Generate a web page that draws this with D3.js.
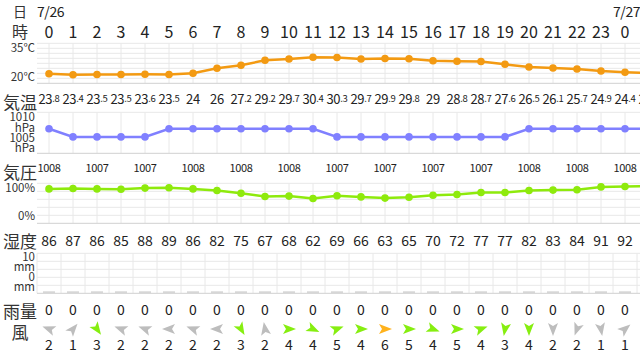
<!DOCTYPE html>
<html>
<head>
<meta charset="utf-8">
<script src="https://cdn.jsdelivr.net/npm/d3@7"></script>
<style>
  body { margin: 0; background: #fff; }
  svg { display: block; font-family: "Noto Sans CJK JP", "Noto Sans", sans-serif; }
</style>
</head>
<body>
<div id="chart"></div>
<script>
// hourly forecast 7/26 0時 - 7/27 1時
var dates = [{i: 0, label: "7/26"}, {i: 24, label: "7/27"}];
var hours = [0,1,2,3,4,5,6,7,8,9,10,11,12,13,14,15,16,17,18,19,20,21,22,23,0,1];
var temps = [23.8,23.4,23.5,23.5,23.6,23.5,24,26,27.2,29.2,29.7,30.4,30.3,29.7,29.9,29.8,29,28.8,28.7,27.6,26.5,26.1,25.7,24.9,24.4,24.1];
var pressure = [1008,1007,1007,1007,1007,1008,1008,1008,1008,1008,1008,1008,1007,1007,1007,1007,1007,1007,1007,1007,1008,1008,1008,1008,1008,1008];
var humidity = [86,87,86,85,88,89,86,82,75,67,68,62,69,66,63,65,70,72,77,77,82,83,84,91,92,93];
var rain = [0,0,0,0,0,0,0,0,0,0,0,0,0,0,0,0,0,0,0,0,0,0,0,0,0,0];
var windSpeed = [2,1,3,2,2,2,2,2,3,2,4,4,5,4,6,5,4,5,4,3,4,2,2,1,1];
// arrow heading on screen, degrees (0 = right, 90 = down)
var windDir = [200,-50,55,200,200,180,200,180,60,-100,0,25,-20,0,0,0,20,0,-20,100,90,90,110,80,-40];

var tempTicks = [20,22,24,26,28,30,32,34,36];
var humTicks = [0,20,40,60,80,100];
var rainTicks = [0,2,4,6,8,10];

var width = 640, height = 354;
var svg = d3.select("#chart").append("svg")
  .attr("width", width)
  .attr("height", height);

var x = d3.scaleBand()
  .domain(d3.range(26))
  .range([37, 37 + 24 * 26]);
function cx(i) { return x(i) + x.bandwidth() / 2; }

var yTemp = d3.scaleLinear().domain([20, 36]).range([83.3, 43.3]);
var yPres = d3.scaleLinear().domain([1005, 1010]).range([153.3, 112.3]);
var yHum = d3.scaleLinear().domain([0, 100]).range([223.3, 183.3]);
var yRain = d3.scaleLinear().domain([0, 10]).range([293.3, 253.3]);

var gridColor = "#e8e8e8", baseColor = "#d0d0d0", labelColor = "#333", valueColor = "#222";

function grid(y, ticks, atCenter) {
  var g = svg.append("g");
  var r = y.range();
  g.selectAll(".v")
    .data(d3.range(26))
    .enter().append("line")
    .attr("x1", function(d) { return atCenter ? cx(d) : x(d); })
    .attr("x2", function(d) { return atCenter ? cx(d) : x(d); })
    .attr("y1", r[1])
    .attr("y2", r[0])
    .attr("stroke", gridColor)
    .attr("stroke-width", 1);
  g.selectAll(".h")
    .data(ticks)
    .enter().append("line")
    .attr("x1", 37).attr("x2", width)
    .attr("y1", function(d) { return y(d); })
    .attr("y2", function(d) { return y(d); })
    .attr("stroke", function(d, i) { return i == 0 ? baseColor : gridColor; })
    .attr("stroke-width", 1);
}

grid(yTemp, tempTicks, true);
grid(yPres, [1005, 1010], true);
grid(yHum, humTicks, true);
grid(yRain, rainTicks, false);

function txt(xp, yp, s, size, anchor, color) {
  return svg.append("text")
    .attr("x", xp).attr("y", yp)
    .attr("font-size", size)
    .attr("text-anchor", anchor || "middle")
    .attr("dominant-baseline", "central")
    .attr("fill", color || labelColor)
    .text(s);
}

// header rows
txt(20, 11, "日", 14);
svg.selectAll(".date")
  .data(dates)
  .enter().append("text")
  .attr("x", function(d) { return x(d.i); })
  .attr("y", 11)
  .attr("font-size", 14)
  .attr("letter-spacing", -0.4)
  .attr("dominant-baseline", "central")
  .attr("fill", valueColor)
  .text(function(d) { return d.label; });

txt(20, 31, "時", 16);
svg.selectAll(".hour")
  .data(hours)
  .enter().append("text")
  .attr("x", function(d, i) { return cx(i); })
  .attr("y", 31)
  .attr("font-size", 16)
  .attr("text-anchor", "middle")
  .attr("dominant-baseline", "central")
  .attr("fill", valueColor)
  .text(function(d) { return d; });

// axis labels
txt(35, yTemp(35) + 1, "35℃", 11.5, "end");
txt(35, yTemp(20) - 7, "20℃", 11.5, "end");
txt(35, yPres(1010) + 4, "1010", 11.5, "end");
txt(35, yPres(1010) + 14.5, "hPa", 11.5, "end");
txt(35, yPres(1005) - 16, "1005", 11.5, "end");
txt(35, yPres(1005) - 6, "hPa", 11.5, "end");
txt(35, yHum(100) + 3.5, "100%", 11.5, "end");
txt(35, yHum(0) - 8, "0%", 11.5, "end");
txt(35, yRain(10) + 3, "10", 11.5, "end");
txt(35, yRain(10) + 13, "mm", 11.5, "end");
txt(35, yRain(0) - 17, "0", 11.5, "end");
txt(35, yRain(0) - 7.5, "mm", 11.5, "end");

// series lines + dots
function series(data, y, color) {
  var line = d3.line()
    .x(function(d, i) { return cx(i); })
    .y(function(d) { return y(d); });
  svg.append("path")
    .datum(data)
    .attr("d", line)
    .attr("fill", "none")
    .attr("stroke", color)
    .attr("stroke-width", 2.5);
  svg.append("g").selectAll("circle")
    .data(data)
    .enter().append("circle")
    .attr("cx", function(d, i) { return cx(i); })
    .attr("cy", function(d) { return y(d); })
    .attr("r", 3.8)
    .attr("fill", color);
}

series(temps, yTemp, "#f39a12");
series(pressure, yPres, "#8080ff");
series(humidity, yHum, "#8eea0c");

// temperature values
txt(20, 101, "気温", 17);
var tv = svg.append("g").selectAll("text")
  .data(temps)
  .enter().append("text")
  .attr("x", function(d, i) { return cx(i); })
  .attr("y", 98)
  .attr("text-anchor", "middle")
  .attr("dominant-baseline", "central")
  .attr("fill", valueColor)
  .attr("letter-spacing", -0.3);
tv.append("tspan")
  .attr("font-size", 13)
  .text(function(d) { return Math.floor(d); });
tv.append("tspan")
  .attr("font-size", 9.5)
  .text(function(d) { var s = String(d).split("."); return s.length > 1 ? "." + s[1] : ""; });

// pressure values (every 2 hours)
txt(20, 171.5, "気圧", 17);
svg.append("g").selectAll("text")
  .data(pressure.filter(function(d, i) { return i % 2 == 0; }))
  .enter().append("text")
  .attr("x", function(d, i) { return cx(i * 2); })
  .attr("y", 166.5)
  .attr("font-size", 11)
  .attr("letter-spacing", -0.4)
  .attr("text-anchor", "middle")
  .attr("dominant-baseline", "central")
  .attr("fill", valueColor)
  .text(function(d) { return d; });

// humidity values
txt(20, 240, "湿度", 17);
svg.append("g").selectAll("text")
  .data(humidity)
  .enter().append("text")
  .attr("x", function(d, i) { return cx(i); })
  .attr("y", 239.5)
  .attr("font-size", 14)
  .attr("text-anchor", "middle")
  .attr("dominant-baseline", "central")
  .attr("fill", valueColor)
  .text(function(d) { return d; });

// rain bars + values
svg.append("g").selectAll("rect")
  .data(rain)
  .enter().append("rect")
  .attr("x", function(d, i) { return cx(i) - 6; })
  .attr("width", 12)
  .attr("y", function(d) { return Math.min(yRain(d), yRain(0) - 2); })
  .attr("height", function(d) { return Math.max(2, yRain(0) - yRain(d)); })
  .attr("fill", "#d6d6d6");

txt(20, 310, "雨量", 17);
svg.append("g").selectAll("text")
  .data(rain)
  .enter().append("text")
  .attr("x", function(d, i) { return cx(i); })
  .attr("y", 308.5)
  .attr("font-size", 14)
  .attr("text-anchor", "middle")
  .attr("dominant-baseline", "central")
  .attr("fill", valueColor)
  .text(function(d) { return d; });

// wind
txt(20, 331, "風", 17);
var windColor = d3.scaleThreshold().domain([3, 6]).range(["#bdbdbd", "#86ee10", "#ffb21c"]);
svg.append("g").selectAll("path")
  .data(windSpeed)
  .enter().append("path")
  .attr("d", "M7,0 L-6,-5 L-3,0 L-6,5 Z")
  .attr("transform", function(d, i) { return "translate(" + cx(i) + ",329) rotate(" + windDir[i] + ")"; })
  .attr("fill", function(d) { return windColor(d); });
svg.append("g").selectAll("text")
  .data(windSpeed)
  .enter().append("text")
  .attr("x", function(d, i) { return cx(i); })
  .attr("y", 343.5)
  .attr("font-size", 14)
  .attr("text-anchor", "middle")
  .attr("dominant-baseline", "central")
  .attr("fill", valueColor)
  .text(function(d) { return d; });
</script>
</body>
</html>
